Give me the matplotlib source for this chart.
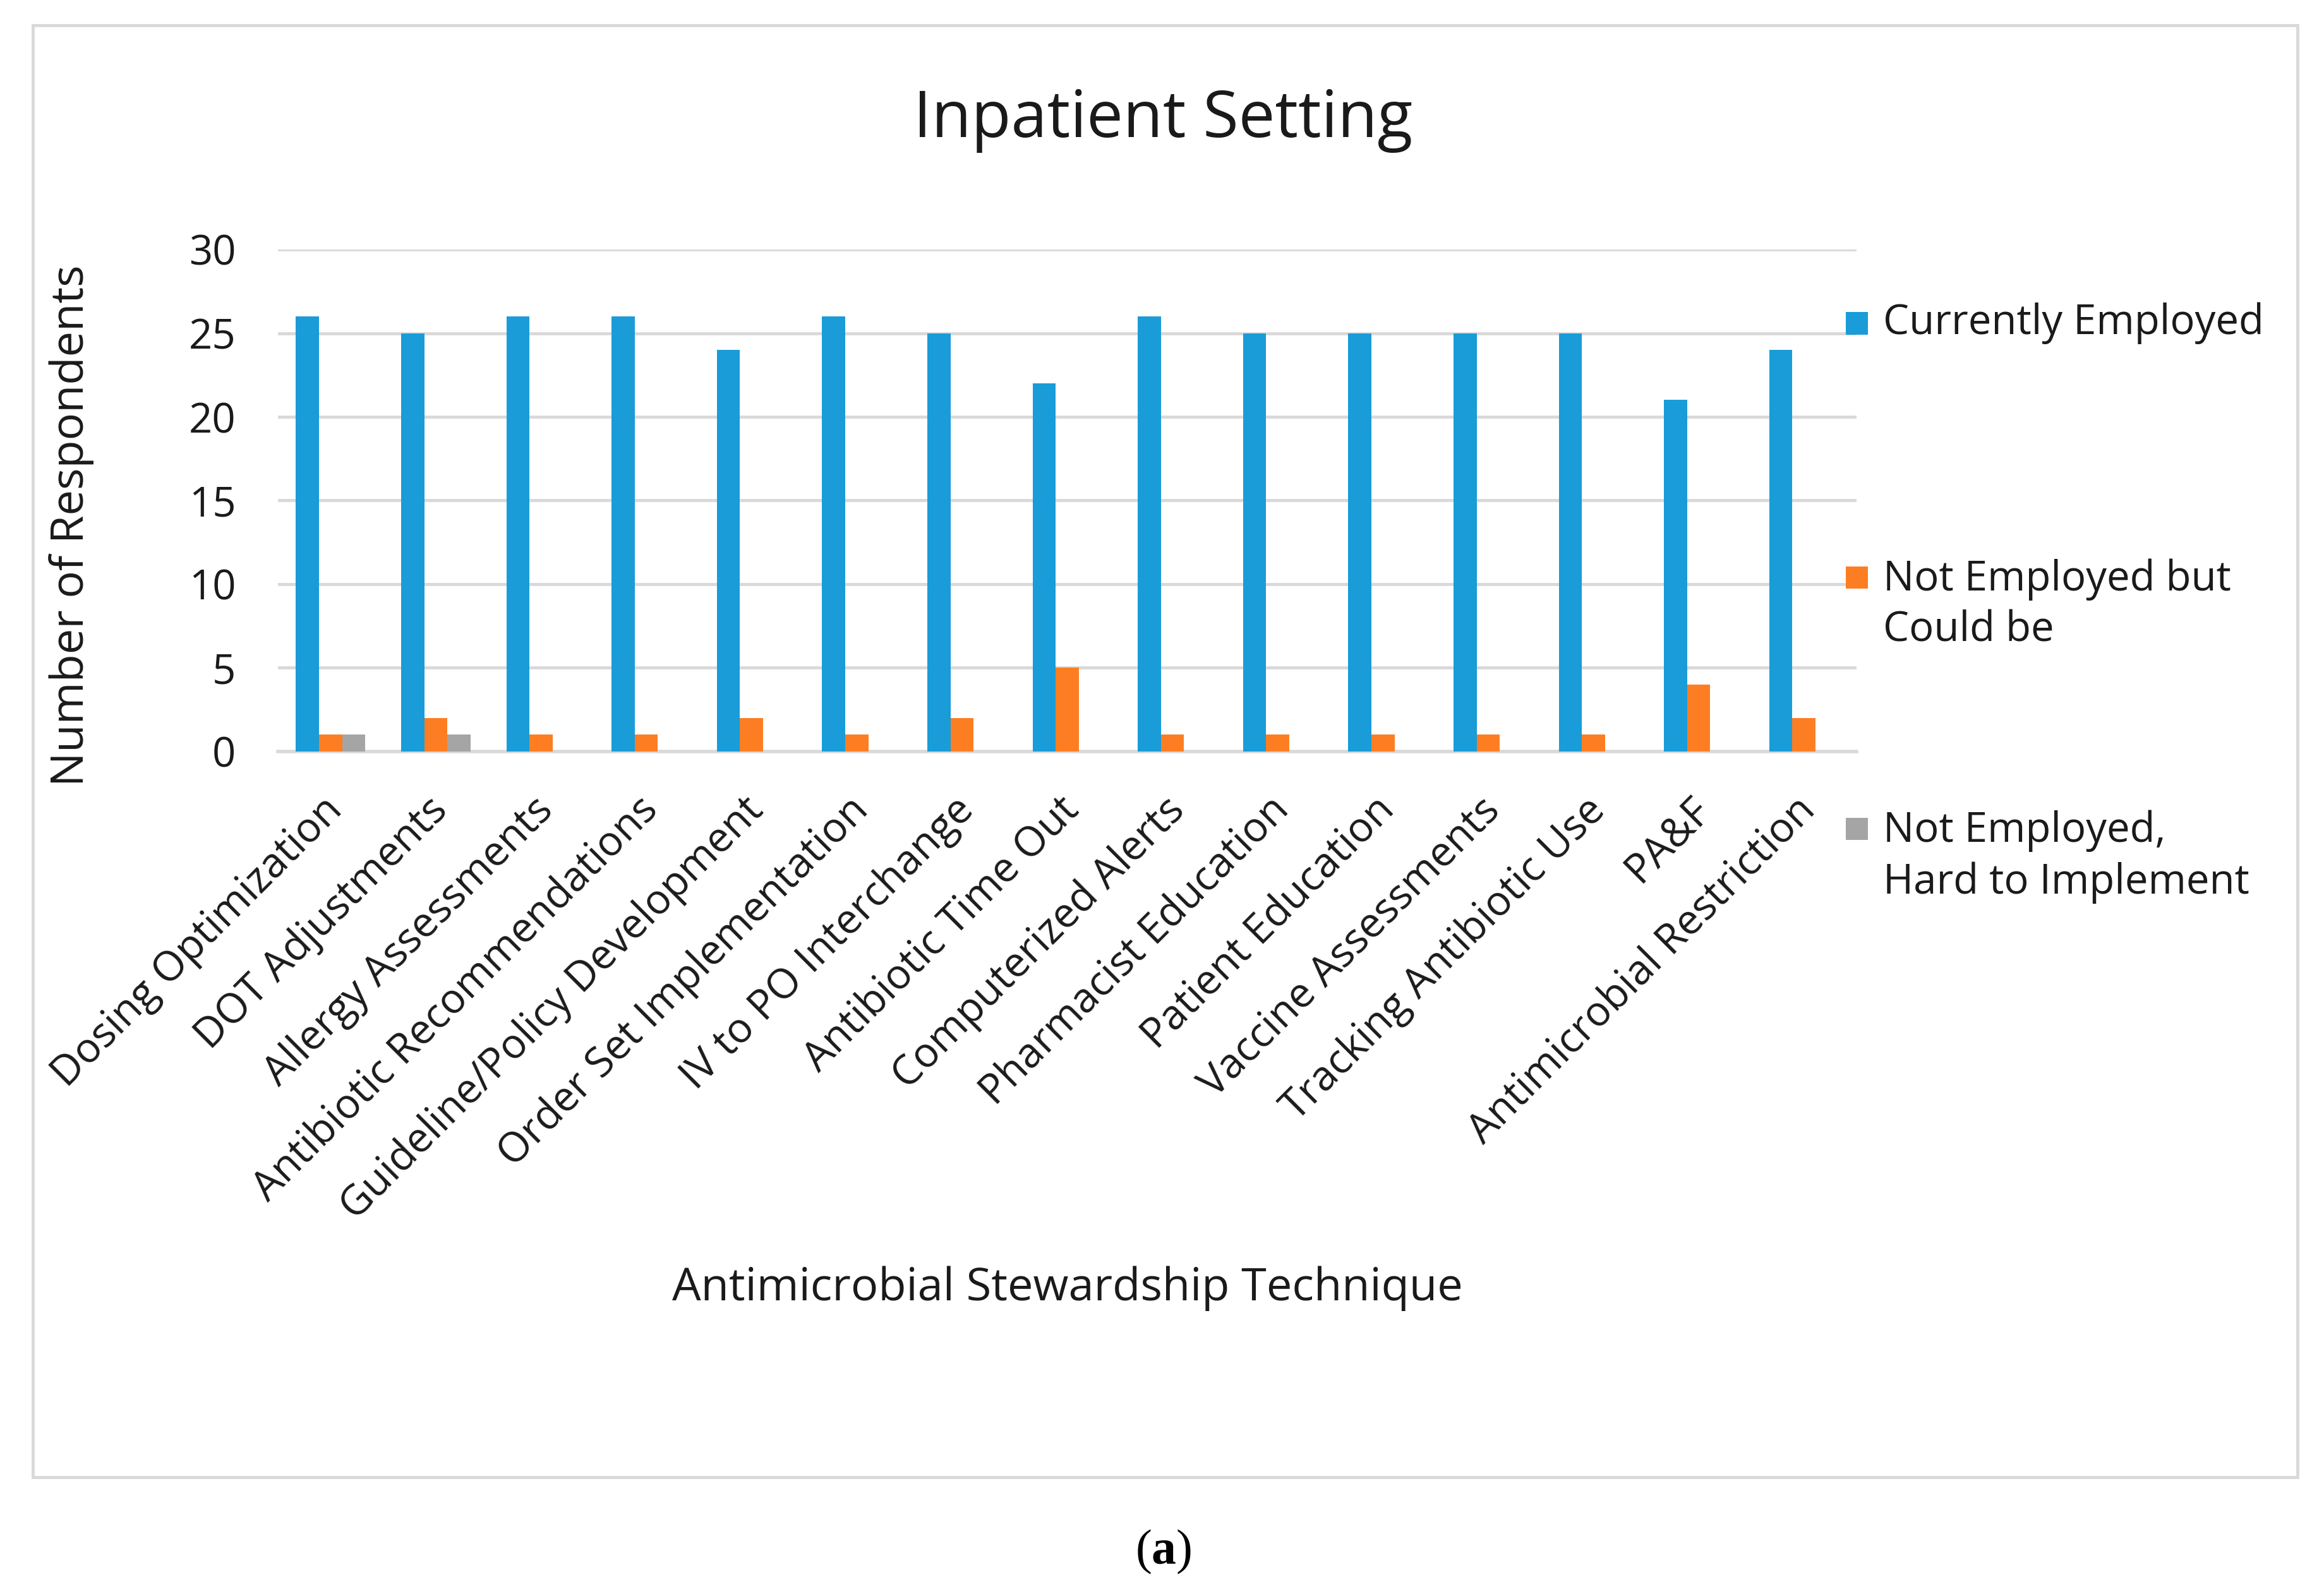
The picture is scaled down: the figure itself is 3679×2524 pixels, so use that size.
import matplotlib
matplotlib.use("Agg")
import matplotlib.pyplot as plt
import matplotlib.transforms as mtransforms
from matplotlib.patches import Rectangle
import numpy as np

plt.rcParams['font.family'] = ['Open Sans', 'DejaVu Sans']
plt.rcParams['mathtext.fontset'] = 'custom'
plt.rcParams['mathtext.rm'] = 'Liberation Serif'
plt.rcParams['mathtext.bf'] = 'Liberation Serif:bold'

categories = ["Dosing Optimization", "DOT Adjustments", "Allergy Assessments",
              "Antibiotic Recommendations", "Guideline/Policy Development",
              "Order Set Implementation", "IV to PO Interchange", "Antibiotic Time Out",
              "Computerized Alerts", "Pharmacist Education", "Patient Education",
              "Vaccine Assessments", "Tracking Antibiotic Use", "PA&F",
              "Antimicrobial Restriction"]
currently_employed = [26, 25, 26, 26, 24, 26, 25, 22, 26, 25, 25, 25, 25, 21, 24]
not_employed_could_be = [1, 2, 1, 1, 2, 1, 2, 5, 1, 1, 1, 1, 1, 4, 2]
not_employed_hard = [1, 1, 0, 0, 0, 0, 0, 0, 0, 0, 0, 0, 0, 0, 0]
series_labels = ["Currently Employed", "Not Employed but\nCould be",
                 "Not Employed,\nHard to Implement"]
y_ticks = [0, 5, 10, 15, 20, 25, 30]

colors = ["#199CD8", "#FD7E22", "#A5A5A5"]
grid_color = "#D9D9D9"
text_color = "#1A1A1A"

W, H = 3680, 2524
dpi = 100
fig = plt.figure(figsize=(W / dpi, H / dpi), dpi=dpi)

def fx(px):
    return px / W

def fy(py):
    return 1 - py / H

ax_left, ax_right, ax_top, ax_bottom = 440, 2939, 395, 1190
ax = fig.add_axes([fx(ax_left), fy(ax_bottom), fx(ax_right - ax_left),
                   (ax_bottom - ax_top) / H])

x = np.arange(len(categories))
bw = 0.22
series = [currently_employed, not_employed_could_be, not_employed_hard]
for i, (vals, col) in enumerate(zip(series, colors)):
    ax.bar(x + (i - 1) * bw, vals, width=bw, color=col, edgecolor='none', zorder=3)

ax.set_xlim(-0.5, len(categories) - 0.5)
ax.set_ylim(0, 30)
ax.set_yticks(y_ticks)
ax.set_yticklabels([str(v) for v in y_ticks], fontsize=47, color=text_color)
ax.yaxis.grid(True, color=grid_color, linewidth=3.5, zorder=0)
ax.set_axisbelow(True)
for s in ['top', 'right', 'left']:
    ax.spines[s].set_visible(False)
ax.spines['bottom'].set_color(grid_color)
ax.spines['bottom'].set_linewidth(4)
ax.spines['bottom'].set_zorder(2)
ax.tick_params(axis='y', length=0, pad=48)
ax.tick_params(axis='x', length=0, pad=60)
ax.set_xticks(x)
ax.set_xticklabels(categories, rotation=45, ha='right', va='center',
                   rotation_mode='anchor', fontsize=47, color=text_color)
offset = mtransforms.ScaledTranslation(9 / dpi, 0, fig.dpi_scale_trans)
for lab in ax.get_xticklabels():
    lab.set_transform(lab.get_transform() + offset)

# Title and axis labels
fig.text(fx(1841), fy(190), "Inpatient Setting", fontsize=74, ha='center',
         va='center', color=text_color)
fig.text(fx(1690), fy(2040), "Antimicrobial Stewardship Technique", fontsize=52,
         ha='center', va='center', color=text_color)
fig.text(fx(113), fy(832), "Number of Respondents", fontsize=52, rotation=90,
         ha='center', va='center', color=text_color)

# Legend (manually laid out like the spreadsheet legend)
square_y = [512, 915, 1312]
text_y = [512, 958, 1357]
sq = 35
for lab, col, ys, yt in zip(series_labels, colors, square_y, text_y):
    fig.patches.append(Rectangle((fx(2922), fy(ys + sq / 2)), fx(sq), sq / H,
                                 transform=fig.transFigure, facecolor=col,
                                 edgecolor='none'))
    fig.text(fx(2981), fy(yt), lab, fontsize=47, ha='left', va='center',
             linespacing=1.3, color=text_color)

# Outer chart border
fig.patches.append(Rectangle((fx(52), fy(2339)), fx(3637 - 52), (2339 - 40) / H,
                             transform=fig.transFigure, facecolor='none',
                             edgecolor=grid_color, linewidth=3.5))

# Panel label
fig.text(fx(1842), fy(2457), r"($\mathbf{a}$)", fontsize=56, ha='center',
         va='center', family='Liberation Serif', color='black')

fig.savefig("out.png", dpi=dpi, facecolor='white')
